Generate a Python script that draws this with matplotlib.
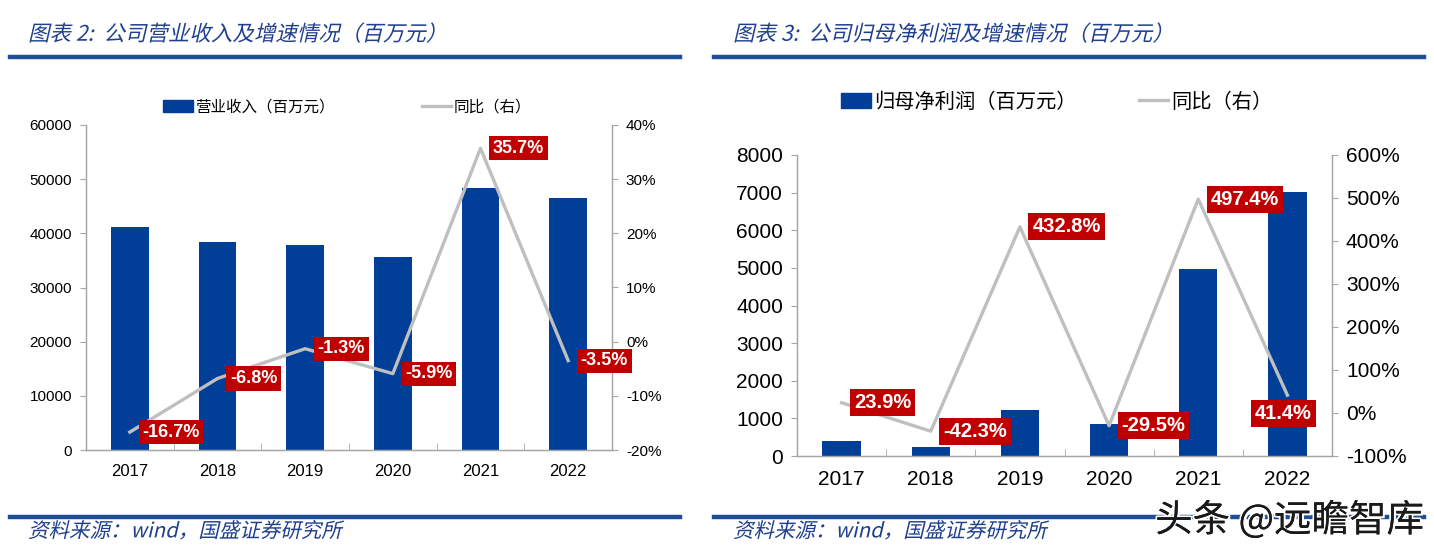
import matplotlib
matplotlib.use("Agg")
import matplotlib.pyplot as plt
from matplotlib.patches import Patch, PathPatch
from matplotlib.lines import Line2D
from matplotlib.ticker import FuncFormatter, MultipleLocator, FixedLocator
from matplotlib.textpath import TextPath
from matplotlib.font_manager import FontProperties
from matplotlib.transforms import Affine2D, IdentityTransform
import matplotlib.patheffects as pe

# ---------------- data ----------------
years = ["2017", "2018", "2019", "2020", "2021", "2022"]
revenue = [41170, 38370, 37870, 35640, 48300, 46600]          # 百万元
revenue_yoy = [-16.7, -6.8, -1.3, -5.9, 35.7, -3.5]            # %
profit = [395, 228, 1210, 840, 4960, 7010]                     # 百万元
profit_yoy = [23.9, -42.3, 432.8, -29.5, 497.4, 41.4]          # %

title_left = "图表 2:  公司营业收入及增速情况（百万元）"
title_right = "图表 3:  公司归母净利润及增速情况（百万元）"
legend_left = ["营业收入（百万元）", "同比（右）"]
legend_right = ["归母净利润（百万元）", "同比（右）"]
source_text = "资料来源：wind，国盛证券研究所"
watermark = "头条 @远瞻智库"

# ---------------- style ----------------
CJK = ["Noto Sans CJK SC", "DejaVu Sans"]
NUM = ["Liberation Sans", "DejaVu Sans"]
BAR = "#003E98"
LINE = "#BFBFBF"
RED = "#C00000"
HEAD = "#1F4E99"
TXT_BLUE = "#1F3F8F"
SPINE = "#A6A6A6"

W, H = 1434, 556
fig = plt.figure(figsize=(W / 100, H / 100), dpi=100)


def fx(px):
    return px / W


def fy(py):
    return 1 - py / H


def italic_text(s, x_px, y_px_center, size_px, color, weight="light"):
    """Draw slanted text (fake italic) at pixel position (top-left origin)."""
    fp = FontProperties(family="Noto Sans CJK SC", weight=weight)
    tp = TextPath((0, 0), s, size=size_px, prop=fp)
    base = H - y_px_center - size_px * 0.36
    tr = Affine2D().skew_deg(13, 0).translate(x_px, base)
    patch = PathPatch(tr.transform_path(tp), fc=color, ec="none",
                      transform=IdentityTransform())
    fig.add_artist(patch)


def panel(rect, cats, bars, yoy, ylim, ystep, y2lim, y2step, fs_tick, fs_xtick, fs_lab,
          leg_labels, leg_fs, leg_center, leg_hl, leg_cs, special_last=False):
    ax = fig.add_axes(rect)
    x = list(range(len(cats)))
    ax.bar(x, bars, width=0.43, color=BAR, zorder=2)
    ax.set_xlim(-0.5, len(cats) - 0.5)
    ax.set_ylim(*ylim)
    ax.yaxis.set_major_locator(MultipleLocator(ystep))
    ax.yaxis.set_major_formatter(FuncFormatter(lambda v, p: f"{v:.0f}"))
    ax.set_xticks(x)
    ax.set_xticklabels(cats)
    ax.xaxis.set_minor_locator(FixedLocator([i + 0.5 for i in range(len(cats) - 1)]))
    ax.tick_params(axis="x", which="major", length=0, pad=10, labelsize=fs_xtick)
    ax.tick_params(axis="x", which="minor", length=5, direction="in", color=SPINE)
    ax.tick_params(axis="y", length=4, color=SPINE, labelsize=fs_tick, pad=6)
    for lab in ax.get_xticklabels() + ax.get_yticklabels():
        lab.set_family(NUM)
    ax.spines["top"].set_visible(False)
    for s in ["left", "bottom", "right"]:
        ax.spines[s].set_color(SPINE)
        ax.spines[s].set_linewidth(1.0)

    ax2 = ax.twinx()
    ax2.plot(x, yoy, color=LINE, lw=2.4, zorder=3)
    ax2.set_ylim(*y2lim)
    ax2.yaxis.set_major_locator(MultipleLocator(y2step))
    ax2.yaxis.set_major_formatter(FuncFormatter(lambda v, p: f"{v:.0f}%"))
    ax2.tick_params(axis="y", length=4, color=SPINE, labelsize=fs_tick, pad=6)
    for lab in ax2.get_yticklabels():
        lab.set_family(NUM)
    ax2.spines["top"].set_visible(False)
    for s in ["left", "bottom", "right"]:
        ax2.spines[s].set_color(SPINE)

    for i, v in enumerate(yoy):
        if special_last and i == len(yoy) - 1:
            off, ha = (-3, -13), "center"
        else:
            off, ha = (9, 0), "left"
        ax2.annotate(f"{v:.1f}%", (i, v), xytext=off, textcoords="offset points",
                     ha=ha, va="center", color="white", fontsize=fs_lab,
                     fontweight="bold", family=NUM, zorder=5,
                     bbox=dict(boxstyle="square,pad=0.2", fc=RED, ec="none"))

    handles = [Patch(color=BAR), Line2D([0], [0], color=LINE, lw=2.4)]
    fig.legend(handles, leg_labels, loc="center", bbox_to_anchor=leg_center,
               ncol=2, frameon=False, prop={"family": CJK, "size": leg_fs},
               handlelength=leg_hl, handleheight=0.8, handletextpad=0.15,
               columnspacing=leg_cs)
    return ax, ax2


# left panel
panel([fx(86), fy(450), fx(612) - fx(86), fy(125) - fy(450)],
      years, revenue, revenue_yoy, (0, 60000), 10000, (-20, 40), 10,
      11, 12, 13, legend_left, 11.2, (fx(347), fy(107)), 1.9, 5.6)

# right panel
panel([fx(797), fy(456), fx(1332) - fx(797), fy(155) - fy(456)],
      years, profit, profit_yoy, (0, 8000), 1000, (-100, 600), 100,
      15, 15, 14.5, legend_right, 14.6, (fx(1057), fy(102)), 1.45, 3.1,
      special_last=True)

# headers, rules and source text
for x0, x1, tx, title in [(10, 680, 28, title_left), (714, 1424, 733, title_right)]:
    fig.add_artist(Line2D([fx(x0), fx(x1)], [fy(57), fy(57)], color=HEAD, lw=3.2))
    fig.add_artist(Line2D([fx(x0), fx(x1)], [fy(517), fy(517)], color=HEAD, lw=3.2))
    italic_text(title, tx, 33, 21.5, TXT_BLUE)
    italic_text(source_text, tx, 530, 20.5, TXT_BLUE)

fig.text(fx(1424), fy(521), watermark, family=CJK, fontsize=27, color="#1a1a1a",
         ha="right", va="center",
         path_effects=[pe.withSimplePatchShadow(offset=(1.5, -1.5), shadow_rgbFace="white", alpha=1.0),
                       pe.withStroke(linewidth=2.5, foreground="white"),
                       pe.Normal()])

fig.savefig("out.png", dpi=100)
